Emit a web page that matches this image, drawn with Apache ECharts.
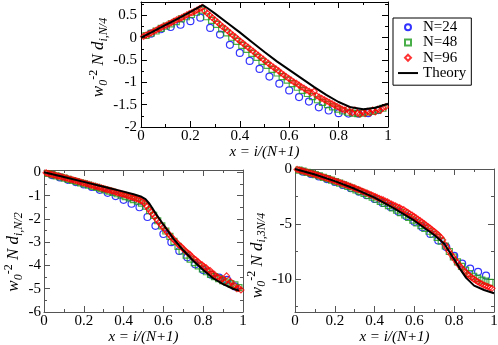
<!DOCTYPE html>
<html>
<head>
  <meta charset="UTF-8"/>
  <title></title>
  <script src="https://cdn.jsdelivr.net/npm/echarts@6/dist/echarts.min.js"></script>
  <style>
    html, body { margin: 0; padding: 0; background: #fff; }
    #main { width: 498px; height: 345px; }
  </style>
</head>
<body>
<div id="main"></div>
<script type="text/javascript">
    // 上图 d_{i,N/4}
    let top24 = [0.09, 0.19, 0.24, 0.29, 0.37, 0.45, 0.22, 0.07, -0.16, -0.34, -0.52, -0.70,
        -0.87, -1.03, -1.18, -1.33, -1.43, -1.56, -1.63, -1.69, -1.70, -1.70, -1.69, -1.62];
    let top48 = [0.05, 0.10, 0.15, 0.21, 0.26, 0.31, 0.36, 0.42, 0.47, 0.52, 0.57, 0.62,
        0.47, 0.39, 0.30, 0.20, 0.11, 0.01, -0.08, -0.17, -0.26, -0.35, -0.44, -0.53,
        -0.62, -0.71, -0.79, -0.87, -0.95, -1.03, -1.11, -1.18, -1.25, -1.32, -1.39, -1.45,
        -1.50, -1.55, -1.60, -1.64, -1.67, -1.69, -1.70, -1.69, -1.67, -1.65, -1.62, -1.58];
    let top96 = [0.03, 0.06, 0.08, 0.11, 0.14, 0.17, 0.20, 0.23, 0.26, 0.28, 0.31, 0.34,
        0.37, 0.40, 0.42, 0.45, 0.48, 0.51, 0.54, 0.56, 0.59, 0.62, 0.65, 0.68,
        0.60, 0.55, 0.50, 0.45, 0.40, 0.35, 0.30, 0.25, 0.21, 0.16, 0.11, 0.06,
        0.02, -0.03, -0.08, -0.12, -0.17, -0.21, -0.26, -0.30, -0.35, -0.39, -0.44, -0.48,
        -0.53, -0.57, -0.62, -0.66, -0.70, -0.74, -0.79, -0.83, -0.87, -0.91, -0.95, -0.99,
        -1.02, -1.06, -1.10, -1.13, -1.17, -1.20, -1.23, -1.20, -1.30, -1.33, -1.36, -1.39,
        -1.42, -1.45, -1.48, -1.51, -1.54, -1.57, -1.60, -1.62, -1.60, -1.66, -1.68, -1.62,
        -1.69, -1.71, -1.67, -1.70, -1.65, -1.68, -1.62, -1.66, -1.60, -1.63, -1.57, -1.55];
    let topTheoryX = [0, 0.05, 0.1, 0.15, 0.2, 0.24, 0.25, 0.27, 0.3, 0.35, 0.4, 0.45,
        0.5, 0.55, 0.6, 0.65, 0.7, 0.75, 0.8, 0.85, 0.9, 0.95, 1.0];
    let topTheory = [0, 0.14, 0.29, 0.43, 0.58, 0.70, 0.73, 0.66, 0.54, 0.33, 0.12, -0.10,
        -0.32, -0.53, -0.72, -0.91, -1.10, -1.28, -1.44, -1.56, -1.60, -1.57, -1.48];

    // 左下 d_{i,N/2}
    let mid24 = [-0.12, -0.22, -0.32, -0.42, -0.52, -0.63, -0.75, -0.88, -1.02, -1.18, -1.35, -1.50,
        -1.92, -2.30, -2.65, -3.00, -3.38, -3.65, -3.95, -4.20, -4.40, -4.52, -4.62, -4.90];
    let mid48 = [-0.05, -0.10, -0.15, -0.20, -0.25, -0.30, -0.35, -0.40, -0.45, -0.50, -0.55, -0.60,
        -0.65, -0.70, -0.75, -0.81, -0.86, -0.92, -0.98, -1.04, -1.10, -1.17, -1.24, -1.32,
        -1.45, -1.65, -1.85, -2.08, -2.30, -2.52, -2.75, -2.97, -3.18, -3.38, -3.56, -3.73,
        -3.88, -4.02, -4.15, -4.27, -4.38, -4.48, -4.57, -4.65, -4.72, -4.78, -4.83, -4.95];
    let mid96 = [-0.02, -0.05, -0.07, -0.09, -0.11, -0.14, -0.16, -0.18, -0.21, -0.23, -0.25, -0.28,
        -0.30, -0.32, -0.35, -0.37, -0.40, -0.42, -0.45, -0.47, -0.50, -0.52, -0.55, -0.57,
        -0.60, -0.62, -0.65, -0.67, -0.70, -0.72, -0.75, -0.77, -0.80, -0.82, -0.85, -0.88,
        -0.90, -0.93, -0.95, -0.98, -1.01, -1.04, -1.07, -1.10, -1.13, -1.16, -1.20, -1.25,
        -1.33, -1.45, -1.57, -1.69, -1.80, -1.92, -2.03, -2.14, -2.25, -2.36, -2.46, -2.57,
        -2.67, -2.77, -2.87, -2.96, -3.05, -3.14, -3.20, -3.30, -3.38, -3.46, -3.52, -3.62,
        -3.70, -3.76, -3.84, -3.92, -3.97, -4.05, -4.10, -4.20, -4.22, -4.35, -4.38, -4.50,
        -4.52, -4.62, -4.58, -4.72, -4.45, -4.80, -4.70, -4.90, -4.88, -5.00, -4.98, -5.05];
    let midTheoryX = [0, 0.1, 0.2, 0.3, 0.4, 0.45, 0.49, 0.51, 0.53, 0.56, 0.6, 0.65,
        0.7, 0.75, 0.8, 0.85, 0.9, 0.95, 0.98];
    let midTheory = [0, -0.2, -0.41, -0.62, -0.83, -0.94, -1.05, -1.15, -1.35, -1.75, -2.25, -2.85,
        -3.35, -3.8, -4.2, -4.55, -4.8, -5.0, -5.08];

    // 右下 d_{i,3N/4}
    let bot24 = [-0.25, -0.45, -0.68, -0.92, -1.18, -1.45, -1.75, -2.05, -2.38, -2.72, -3.08, -3.45,
        -3.88, -4.30, -4.80, -5.30, -5.90, -6.50, -7.10, -7.90, -8.60, -9.05, -9.35, -9.70];
    let bot48 = [-0.10, -0.20, -0.30, -0.40, -0.52, -0.63, -0.76, -0.88, -1.01, -1.15, -1.29, -1.43,
        -1.58, -1.73, -1.89, -2.05, -2.22, -2.39, -2.57, -2.75, -2.94, -3.13, -3.33, -3.53,
        -3.74, -3.96, -4.18, -4.41, -4.65, -4.89, -5.14, -5.40, -5.66, -5.93, -6.21, -6.55,
        -7.00, -7.50, -8.00, -8.45, -8.85, -9.20, -9.50, -9.75, -9.95, -10.10, -10.20, -10.30];
    let bot96 = [-0.04, -0.09, -0.14, -0.19, -0.24, -0.29, -0.35, -0.40, -0.45, -0.51, -0.57, -0.63,
        -0.69, -0.74, -0.80, -0.86, -0.93, -0.99, -1.05, -1.12, -1.18, -1.25, -1.31, -1.38,
        -1.45, -1.52, -1.59, -1.66, -1.73, -1.80, -1.88, -1.95, -2.03, -2.11, -2.18, -2.26,
        -2.34, -2.42, -2.50, -2.58, -2.67, -2.75, -2.80, -2.92, -2.98, -3.10, -3.18, -3.28,
        -3.35, -3.46, -3.52, -3.65, -3.70, -3.85, -3.95, -4.08, -4.18, -4.32, -4.44, -4.58,
        -4.70, -4.84, -4.98, -5.12, -5.26, -5.40, -5.55, -5.70, -5.85, -6.02, -6.20, -6.45,
        -6.85, -7.15, -7.45, -7.75, -8.00, -8.25, -8.50, -8.75, -8.95, -9.15, -9.35, -9.55,
        -9.70, -9.85, -10.00, -10.10, -10.25, -10.35, -10.45, -10.55, -10.62, -10.70, -10.78, -10.85];
    let botTheoryX = [0, 0.1, 0.2, 0.3, 0.4, 0.5, 0.6, 0.7, 0.75, 0.8, 0.83, 0.86, 0.9, 0.95, 1.0];
    let botTheory = [0, -0.5, -1.1, -1.8, -2.6, -3.6, -4.7, -6.0, -6.8, -8.2, -9.1, -9.9, -10.6, -11.0, -11.3];

    // 刻度
    let xTicks = {min: 0, max: 1, interval: 0.2};
    let yTicks = [
        {min: -2, max: 0.8, interval: 0.5},
        {min: -6, max: 0.1, interval: 1},
        {min: -13, max: 0, major: [-10, -5, 0], minor: [-12.5, -7.5, -2.5]}
    ];
    let subs = ['i,N/4', 'i,N/2', 'i,3N/4'];

    const FONT = 'Liberation Serif';
    let frameColor = ['#000', '#555', '#555'];
    let grids = [
        {left: 141, top: 2, width: 247, height: 125},
        {left: 44, top: 170, width: 199, height: 142},
        {left: 295, top: 169, width: 199, height: 143}
    ];
    let xNameGap = [17, 13, 13];
    let yNameGap = [31, 19, 20];
    let yNamePad = [[0, 0, 0, 14], [0, 22, 0, 0], [0, 30, 0, 0]];

    let nameRich = {
        i: {fontFamily: FONT, fontStyle: 'italic', fontSize: 17, lineHeight: 22, color: '#000'},
        s: {fontFamily: FONT, fontStyle: 'italic', fontSize: 12, lineHeight: 12, verticalAlign: 'bottom', color: '#000'},
        p: {fontFamily: FONT, fontSize: 12, lineHeight: 12, verticalAlign: 'top', color: '#000'}
    };

    function frame(color) {
        return {
            axisLine: {show: true, onZero: false, lineStyle: {color: color, width: 1}},
            axisTick: {show: true, inside: true, length: 6, lineStyle: {color: color}},
            minorTick: {show: true, splitNumber: 2, length: 3, lineStyle: {color: color}},
            splitLine: {show: false},
            minorSplitLine: {show: false}
        };
    }

    let tickLabel = {fontFamily: FONT, fontSize: 15, color: '#000'};

    let xAxis = [];
    let yAxis = [];
    for (let g = 0; g < 3; g++) {
        let c = frameColor[g];
        xAxis.push(Object.assign(frame(c), {
            gridIndex: g, type: 'value', position: 'bottom',
            min: xTicks.min, max: xTicks.max, interval: xTicks.interval,
            axisLabel: Object.assign({margin: 2}, tickLabel),
            name: 'x = i/(N+1)', nameLocation: 'middle', nameGap: xNameGap[g],
            nameTextStyle: {fontFamily: FONT, fontStyle: 'italic', fontSize: 15, color: '#000'}
        }));
        xAxis.push(Object.assign(frame(c), {
            gridIndex: g, type: 'value', position: 'top',
            min: xTicks.min, max: xTicks.max, interval: xTicks.interval,
            axisLabel: {show: false}
        }));
    }
    for (let g = 0; g < 3; g++) {
        let c = frameColor[g];
        let t = yTicks[g];
        let left = Object.assign(frame(c), {
            gridIndex: g, type: 'value', position: 'left',
            min: t.min, max: t.max,
            axisLabel: Object.assign({margin: g === 0 ? 4 : 3, showMaxLabel: g === 2}, tickLabel),
            name: '{i|w}{s|0}{p|-2}{i| N d}{s|' + subs[g] + '}',
            nameLocation: 'middle', nameRotate: 90, nameGap: yNameGap[g],
            nameTextStyle: {rich: nameRich, padding: yNamePad[g]}
        });
        let right = Object.assign(frame(c), {
            gridIndex: g, type: 'value', position: 'right',
            min: t.min, max: t.max,
            axisLabel: {show: false}
        });
        if (t.interval) {
            left.interval = t.interval;
            right.interval = t.interval;
        } else {
            // 主刻度 -10, -5, 0
            left.axisTick.customValues = t.major;
            left.axisLabel.customValues = t.major;
            left.minorTick = {show: false};
            right.axisTick.customValues = t.major;
            right.minorTick = {show: false};
        }
        yAxis.push(left, right);
    }
    // 右下图的次刻度单独用两根轴画
    ['left', 'right'].forEach(function (pos) {
        yAxis.push({
            gridIndex: 2, type: 'value', position: pos,
            min: yTicks[2].min, max: yTicks[2].max,
            axisLine: {show: false, onZero: false},
            axisLabel: {show: false},
            splitLine: {show: false},
            axisTick: {show: true, inside: true, length: 3, customValues: yTicks[2].minor,
                lineStyle: {color: frameColor[2]}}
        });
    });

    function pts(ys) {
        let n = ys.length;
        return ys.map(function (v, k) { return [(k + 1) / (n + 1), v]; });
    }

    function pairs(xs, ys) {
        return xs.map(function (x, k) { return [x, ys[k]]; });
    }

    let marks = [
        {name: 'N=24', symbol: 'circle', size: 7, color: '#0000ff', icon: 'circle'},
        {name: 'N=48', symbol: 'rect', size: 6, color: '#1a9a1a', icon: 'path://M0,0L1,0L1,1L0,1Z'},
        {name: 'N=96', symbol: 'diamond', size: 6, color: '#ff0000', icon: 'path://M1,0L2,1L1,2L0,1Z'}
    ];
    let sets = [
        [top24, top48, top96, topTheoryX, topTheory],
        [mid24, mid48, mid96, midTheoryX, midTheory],
        [bot24, bot48, bot96, botTheoryX, botTheory]
    ];

    let series = [];
    for (let g = 0; g < 3; g++) {
        for (let m = 0; m < 3; m++) {
            series.push({
                name: marks[m].name, type: 'scatter',
                xAxisIndex: g * 2, yAxisIndex: g * 2,
                symbol: marks[m].symbol, symbolSize: marks[m].size,
                itemStyle: {color: 'transparent', borderColor: marks[m].color, borderWidth: 1.2},
                emphasis: {disabled: true},
                data: pts(sets[g][m])
            });
        }
        series.push({
            name: 'Theory', type: 'line',
            xAxisIndex: g * 2, yAxisIndex: g * 2,
            symbol: 'none', showSymbol: false, z: 5,
            lineStyle: {color: '#000', width: 2},
            itemStyle: {color: '#000'},
            emphasis: {disabled: true},
            data: pairs(sets[g][3], sets[g][4])
        });
    }

    let legendData = marks.map(function (m) { return {name: m.name, icon: m.icon}; });
    legendData.push({name: 'Theory', icon: 'path://M0,0L20,0L20,2L0,2Z'});

    let myChart = echarts.init(document.getElementById('main'), null, {renderer: 'canvas'});
    let option = {
        backgroundColor: '#fff',
        animation: false,
        grid: grids.map(function (r) {
            return Object.assign({containLabel: false, outerBoundsMode: 'none'}, r);
        }),
        legend: {
            orient: 'vertical', left: 393, top: 18,
            data: legendData,
            borderColor: '#000', borderWidth: 1,
            padding: [1.5, 5, 4.5, 5],
            itemGap: 0, itemWidth: 20, itemHeight: 6,
            symbolKeepAspect: true,
            textStyle: {fontFamily: FONT, fontSize: 15, lineHeight: 15.3, color: '#000'}
        },
        xAxis: xAxis,
        yAxis: yAxis,
        series: series
    };
    myChart.setOption(option);
</script>
</body>
</html>
